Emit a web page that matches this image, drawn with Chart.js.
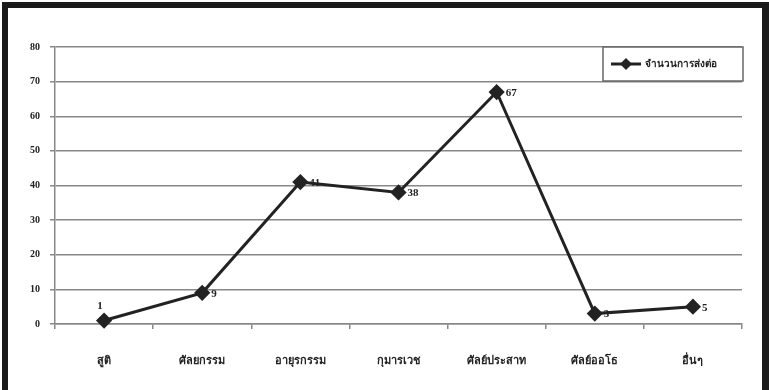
<!DOCTYPE html>
<html>
<head>
<meta charset="utf-8">
<script src="https://cdn.jsdelivr.net/npm/chart.js@4/dist/chart.umd.min.js"></script>
<style>
  html, body { margin: 0; padding: 0; background: #fff; }
  #wrap { width: 769px; height: 390px; position: relative; }
</style>
</head>
<body>
<div id="wrap"><canvas id="c" width="769" height="390"></canvas></div>
<script>
// Referral counts by department
const categories = ['สูติ', 'ศัลยกรรม', 'อายุรกรรม', 'กุมารเวช', 'ศัลย์ประสาท', 'ศัลย์ออโธ', 'อื่นๆ'];
const referrals = [1, 9, 41, 38, 67, 3, 5];
const seriesName = 'จำนวนการส่งต่อ';
const yTicks = [0, 10, 20, 30, 40, 50, 60, 70, 80];

const FONT = '"Liberation Serif", "DejaVu Serif", serif';

// Page frame and white background
const framePlugin = {
  id: 'frame',
  beforeDraw(chart) {
    const ctx = chart.ctx;
    ctx.save();
    ctx.fillStyle = '#fff';
    ctx.fillRect(0, 0, chart.width, chart.height);
    ctx.fillStyle = '#1a1a1a';
    ctx.fillRect(2, 2, chart.width - 2, 6);   // top
    ctx.fillRect(2, 2, 6, chart.height - 2);  // left
    ctx.fillRect(762, 2, 7, chart.height - 2); // right
    ctx.restore();
  }
};

// Value labels beside each point
const valueLabels = {
  id: 'valueLabels',
  afterDatasetsDraw(chart) {
    const ctx = chart.ctx;
    const meta = chart.getDatasetMeta(0);
    ctx.save();
    ctx.fillStyle = '#222';
    ctx.font = 'bold 11px ' + FONT;
    ctx.textBaseline = 'middle';
    meta.data.forEach((pt, i) => {
      const v = chart.data.datasets[0].data[i];
      if (i === 0) {
        ctx.textAlign = 'center';
        ctx.fillText(String(v), pt.x - 4, pt.y - 14);
      } else {
        ctx.textAlign = 'left';
        ctx.fillText(String(v), pt.x + 9, pt.y + 1);
      }
    });
    ctx.restore();
  }
};

// Boxed legend in the upper right of the plot
const boxLegend = {
  id: 'boxLegend',
  afterDraw(chart) {
    const ctx = chart.ctx;
    const area = chart.chartArea;
    const w = 140, h = 34;
    const x = area.right - w + 1, y = area.top;
    ctx.save();
    ctx.fillStyle = '#fff';
    ctx.fillRect(x, y, w, h);
    ctx.strokeStyle = '#666';
    ctx.lineWidth = 1.5;
    ctx.strokeRect(x, y, w, h);
    const cy = y + h / 2;
    ctx.strokeStyle = '#222';
    ctx.lineWidth = 3;
    ctx.beginPath();
    ctx.moveTo(x + 8, cy);
    ctx.lineTo(x + 38, cy);
    ctx.stroke();
    ctx.fillStyle = '#222';
    ctx.beginPath();
    ctx.moveTo(x + 23, cy - 6);
    ctx.lineTo(x + 29, cy);
    ctx.lineTo(x + 23, cy + 6);
    ctx.lineTo(x + 17, cy);
    ctx.closePath();
    ctx.fill();
    ctx.font = 'bold 10px ' + FONT;
    ctx.textBaseline = 'middle';
    ctx.textAlign = 'left';
    ctx.fillText(seriesName, x + 42, cy);
    ctx.restore();
  }
};

new Chart(document.getElementById('c'), {
  type: 'line',
  data: {
    labels: categories,
    datasets: [{
      label: seriesName,
      data: referrals,
      borderColor: '#222',
      borderWidth: 3,
      pointStyle: 'rectRot',
      pointRadius: 6,
      pointBackgroundColor: '#222',
      pointBorderColor: '#222',
      tension: 0,
      clip: false
    }]
  },
  options: {
    responsive: false,
    animation: false,
    devicePixelRatio: 1,
    layout: { padding: { left: 0, right: 27, top: 47, bottom: 0 } },
    plugins: { legend: { display: false }, tooltip: { enabled: false } },
    scales: {
      x: {
        offset: true,
        grid: {
          offset: true,
          drawOnChartArea: false,
          drawTicks: true,
          tickLength: 5,
          color: '#888',
          lineWidth: 1.5
        },
        border: { color: '#888', width: 1.5 },
        ticks: {
          color: '#222',
          font: { family: FONT, size: 11, weight: 'bold' },
          padding: 26,
          maxRotation: 0,
          autoSkip: false
        },
        afterFit(scale) { scale.height = 66; }
      },
      y: {
        min: 0,
        max: 80,
        afterBuildTicks(scale) { scale.ticks = yTicks.map(v => ({ value: v })); },
        grid: {
          color: '#888',
          lineWidth: 1.5,
          tickLength: 5
        },
        border: { color: '#888', width: 1.5 },
        ticks: {
          color: '#222',
          font: { family: FONT, size: 10, weight: 'bold' },
          padding: 10
        },
        afterFit(scale) { scale.width = 55; }
      }
    }
  },
  plugins: [framePlugin, valueLabels, boxLegend]
});
</script>
</body>
</html>
